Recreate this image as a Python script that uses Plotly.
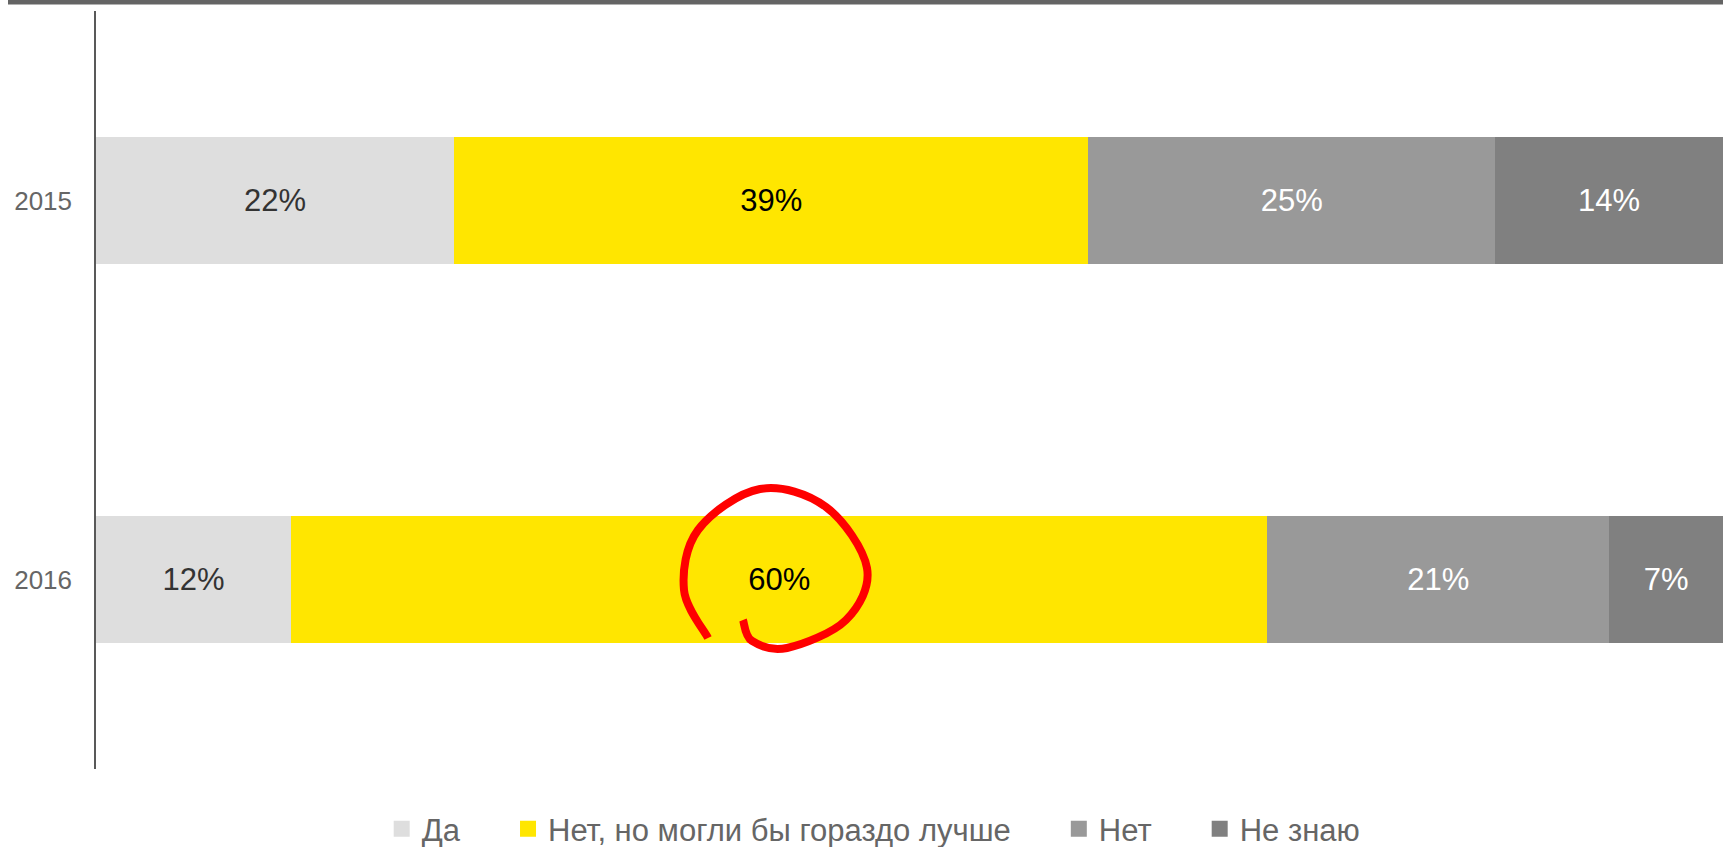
import plotly.graph_objects as go

# data
years = ["2015", "2016"]
answers = ["Да", "Нет, но могли бы гораздо лучше", "Нет", "Не знаю"]
da = [22, 12]
net_no_luchshe = [39, 60]
net = [25, 21]
ne_znayu = [14, 7]

colors = ["#dedede", "#ffe600", "#999999", "#808080"]
text_colors = ["#333333", "#000000", "#ffffff", "#ffffff"]

W, H = 1723, 847
L, R, T, B = 96, 0, 11, 78
FONT = "Arial, Liberation Sans, sans-serif"
PAD = "\u00a0" * 5  # extra room between legend entries


def px_to_paper(px, py):
    return (px - L) / (W - L - R), (H - B - py) / (H - T - B)


def smooth_path(points):
    # catmull-rom through the points, written as cubic beziers
    pts = [px_to_paper(*p) for p in points]
    d = f"M{pts[0][0]:.5f},{pts[0][1]:.5f}"
    for i in range(len(pts) - 1):
        p0 = pts[i - 1] if i > 0 else pts[i]
        p1, p2 = pts[i], pts[i + 1]
        p3 = pts[i + 2] if i + 2 < len(pts) else p2
        c1 = (p1[0] + (p2[0] - p0[0]) / 6, p1[1] + (p2[1] - p0[1]) / 6)
        c2 = (p2[0] - (p3[0] - p1[0]) / 6, p2[1] - (p3[1] - p1[1]) / 6)
        d += f" C{c1[0]:.5f},{c1[1]:.5f} {c2[0]:.5f},{c2[1]:.5f} {p2[0]:.5f},{p2[1]:.5f}"
    return d


fig = go.Figure()
series = [da, net_no_luchshe, net, ne_znayu]
for i, (name, vals, col, tcol) in enumerate(zip(answers, series, colors, text_colors)):
    fig.add_trace(go.Bar(
        y=years, x=vals, orientation="h", name=name, legendgroup=name,
        showlegend=False,
        marker=dict(color=col, line=dict(width=0)),
        text=[f"{v}%" for v in vals], textposition="inside",
        insidetextanchor="middle", textangle=0,
        textfont=dict(family=FONT, size=31, color=tcol),
        hoverinfo="skip",
    ))

# legend entries with bigger square swatches than the bar default
for i, (name, col) in enumerate(zip(answers, colors)):
    fig.add_trace(go.Scatter(
        x=[None], y=[None], mode="markers", legendgroup=name,
        name=name + (PAD if i < len(answers) - 1 else ""),
        marker=dict(symbol="square", size=16, color=col),
        hoverinfo="skip",
    ))

# hand-drawn red loop around the 60% label
loop = [(708, 638), (684, 590), (698, 530), (760, 489), (826, 507),
        (867, 568), (846, 620), (787, 648), (752, 641), (743, 620)]

# grey band at the very top
bx0, _ = px_to_paper(8, 0)
_, by1 = px_to_paper(0, 0)
_, by0 = px_to_paper(0, 4.5)

fig.update_layout(
    barmode="stack",
    bargap=0.665,
    width=W, height=H,
    margin=dict(l=L, r=R, t=T, b=B, autoexpand=False),
    paper_bgcolor="white", plot_bgcolor="white",
    font=dict(family=FONT, color="#666666"),
    xaxis=dict(range=[0, 100], visible=False, fixedrange=True),
    yaxis=dict(
        autorange="reversed", showline=True, linecolor="#595959", linewidth=1.5,
        showgrid=False, zeroline=False, ticks="", ticklabelstandoff=17,
        tickfont=dict(family=FONT, size=26, color="#666666"), fixedrange=True,
    ),
    legend=dict(
        orientation="h", traceorder="normal", itemsizing="trace",
        x=0.478, xanchor="center", yref="container", y=(H - 829) / H, yanchor="middle",
        font=dict(family=FONT, size=31, color="#666666"),
        itemclick=False, itemdoubleclick=False,
    ),
    showlegend=True,
    shapes=[
        dict(type="rect", xref="paper", yref="paper", x0=bx0, x1=1, y0=by0, y1=by1,
             fillcolor="#646464", line=dict(width=0), layer="above"),
        dict(type="path", xref="paper", yref="paper", path=smooth_path(loop),
             line=dict(color="#ff0000", width=8), layer="above"),
    ],
)

# page has a default body margin; drop it so the figure sits at 0,0
fig.write_html("out.html", config={"displayModeBar": False},
               post_script="document.body.style.margin='0px';")
